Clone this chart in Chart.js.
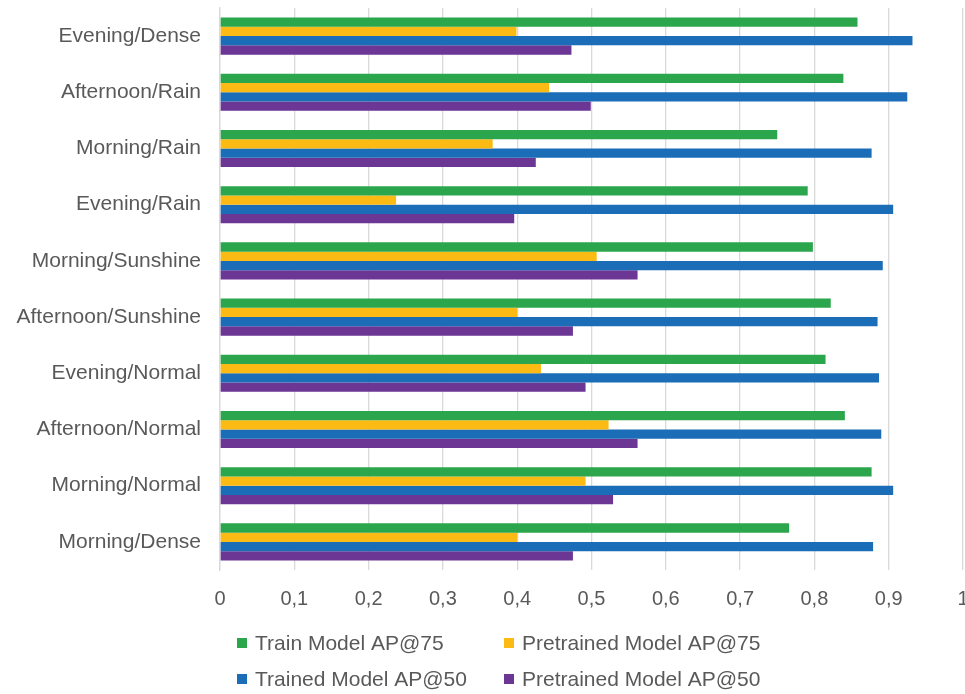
<!DOCTYPE html>
<html>
<head>
<meta charset="utf-8">
<script src="https://cdn.jsdelivr.net/npm/chart.js@4/dist/chart.umd.min.js"></script>
<style>
  html, body { margin: 0; padding: 0; background: #ffffff; }
  #wrap { width: 965px; height: 694px; position: relative; }
</style>
</head>
<body>
<div id="wrap"><canvas id="chart" width="965" height="694"></canvas></div>
<script>
// Lighting / weather scenarios, listed top to bottom
const categories = [
  'Evening/Dense', 'Afternoon/Rain', 'Morning/Rain', 'Evening/Rain',
  'Morning/Sunshine', 'Afternoon/Sunshine', 'Evening/Normal',
  'Afternoon/Normal', 'Morning/Normal', 'Morning/Dense'
];

// Average precision per scenario
const trainAP75      = [0.858, 0.839, 0.750, 0.791, 0.798, 0.822, 0.815, 0.841, 0.877, 0.766];
const pretrainedAP75 = [0.399, 0.443, 0.367, 0.237, 0.507, 0.400, 0.432, 0.523, 0.492, 0.400];
const trainedAP50    = [0.932, 0.925, 0.877, 0.906, 0.892, 0.885, 0.887, 0.890, 0.906, 0.879];
const pretrainedAP50 = [0.473, 0.499, 0.425, 0.396, 0.562, 0.475, 0.492, 0.562, 0.529, 0.475];

const seriesNames = ['Train Model AP@75', 'Pretrained Model AP@75', 'Trained Model AP@50', 'Pretrained Model AP@50'];
const seriesColors = ['#2CA64D', '#FBBA14', '#1B6DB7', '#6C3694'];

const xTicks = [0, 0.1, 0.2, 0.3, 0.4, 0.5, 0.6, 0.7, 0.8, 0.9, 1];

const textColor = '#595959';
const fontFamily = '"Liberation Sans", Arial, Helvetica, sans-serif';

const seriesData = [trainAP75, pretrainedAP75, trainedAP50, pretrainedAP50];

// Two-column legend drawn below the plot
const gridLegend = {
  id: 'gridLegend',
  afterDraw(chart) {
    const ctx = chart.ctx;
    const cols = [237, 504];
    const rows = [643, 679];
    ctx.save();
    ctx.font = '21px ' + fontFamily;
    ctx.textBaseline = 'middle';
    ctx.textAlign = 'left';
    chart.data.datasets.forEach((ds, i) => {
      const x = cols[i % 2];
      const y = rows[Math.floor(i / 2)];
      ctx.fillStyle = ds.backgroundColor;
      ctx.fillRect(x, y - 5, 10, 10);
      ctx.fillStyle = textColor;
      ctx.fillText(ds.label, x + 18, y + 1);
    });
    ctx.restore();
  }
};

// Keep the plot edges where the layout puts them, without label overhang
function noOverhang(scale) {
  scale.paddingTop = 0;
  scale.paddingBottom = 0;
  scale.paddingLeft = 0;
  scale.paddingRight = 0;
}

new Chart(document.getElementById('chart'), {
  type: 'bar',
  data: {
    labels: categories,
    datasets: seriesNames.map((name, i) => ({
      label: name,
      data: seriesData[i],
      backgroundColor: seriesColors[i],
      borderWidth: 0,
      categoryPercentage: 0.66,
      barPercentage: 1.0
    }))
  },
  options: {
    indexAxis: 'y',
    responsive: false,
    animation: false,
    layout: { padding: { top: 8, right: 2, bottom: 0, left: 0 } },
    plugins: {
      legend: { display: false },
      tooltip: { enabled: false }
    },
    scales: {
      x: {
        min: 0,
        max: 1,
        afterBuildTicks(scale) {
          scale.ticks = xTicks.map(v => ({ value: v }));
        },
        afterFit(scale) { scale.height = 124; noOverhang(scale); },
        grid: { color: '#d9d9d9', lineWidth: 1.3, drawTicks: false },
        border: { display: false },
        ticks: {
          padding: 17,
          color: textColor,
          font: { family: fontFamily, size: 20 },
          callback: v => String(v).replace('.', ',')
        }
      },
      y: {
        afterFit(scale) { scale.width = 220; noOverhang(scale); },
        grid: { display: false, drawTicks: false },
        border: { display: true, color: '#d9d9d9', width: 1.3 },
        ticks: {
          padding: 19,
          color: textColor,
          font: { family: fontFamily, size: 21 }
        }
      }
    }
  },
  plugins: [gridLegend]
});
</script>
</body>
</html>
